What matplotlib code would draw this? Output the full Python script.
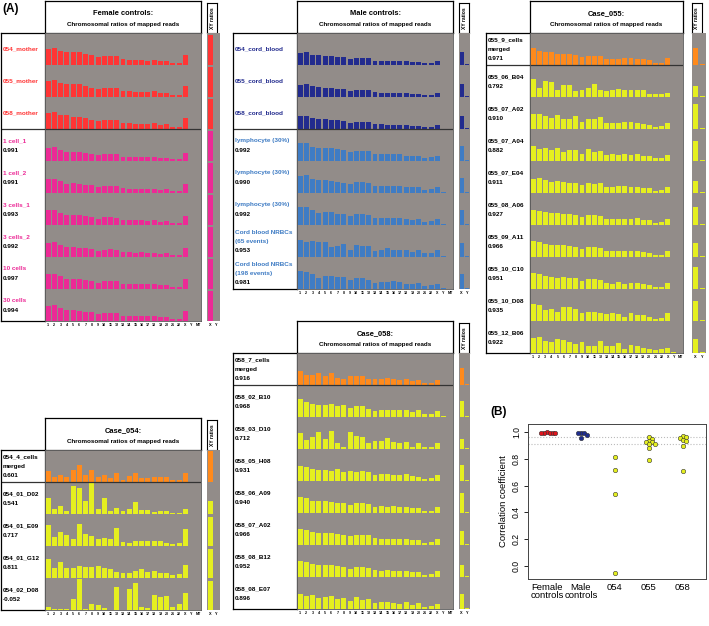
import numpy as np
import matplotlib.pyplot as plt

plt.rcParams['font.family'] = ['Liberation Sans', 'DejaVu Sans']

W, H = 709, 626
ROW = 32.0
GRAY = '#928c89'
RED = '#ff3535'
PINK = '#ec2a96'
NAVY = '#222b8e'
BLUE = '#3f7cc4'
ORANGE = '#ff8a1c'
YELLOW = '#e5ef1f'

chrom_ticks = [str(i) for i in range(1, 23)] + ['X', 'Y', 'MT']

# ratios per row: chr1..chr22, X, Y (bar heights, row = 32)
female_names = ['054_mother', '055_mother', '058_mother', '1 cell_1', '1 cell_2',
                '3 cells_1', '3 cells_2', '10 cells', '30 cells']
female_scores = [None, None, None, '0.991', '0.991', '0.993', '0.992', '0.997', '0.994']
female_ratios = [
    [15.7, 16.7, 14.3, 13.3, 12.7, 12.7, 11, 10, 7.7, 9.3, 9.3, 9.3, 6, 5.3, 5, 5, 4.3, 5.3, 3.7, 4.3, 2.3, 2.3, 10.3, 0],
    [16, 17.3, 14.3, 13.3, 12.7, 12.7, 10.7, 9.3, 8.3, 9.3, 9.3, 9.3, 6, 6, 5.3, 5.3, 5, 6, 4.3, 4.3, 2.3, 2.3, 10.7, 0],
    [16.3, 17.3, 14, 14, 12.3, 12.3, 11.3, 9, 8.3, 9, 9, 9, 6.3, 5.7, 5, 5, 5, 6.3, 4, 5, 2, 2, 11.3, 0],
    [13.3, 13.7, 11, 8.7, 8.7, 8.7, 8, 7, 5.7, 7, 7, 7, 4.3, 4, 4, 4, 4, 4, 3, 3.3, 1.7, 2, 8.3, 0],
    [14, 14.3, 11.7, 9.3, 9.7, 9.3, 8.3, 7.7, 6, 7.3, 7.3, 7, 4.7, 4.3, 4.3, 4.3, 4, 4.3, 3.3, 3.7, 2, 2.3, 9, 0],
    [14.7, 15, 12.3, 10, 10, 9.7, 8.7, 8, 6.3, 7.7, 7.7, 7.3, 5, 4.7, 4.7, 4.7, 4.3, 4.7, 3.3, 3.7, 2, 2.3, 9.3, 0],
    [14.3, 14.7, 12, 9.7, 9.7, 9.3, 8.7, 7.7, 6, 7.3, 7.7, 7.3, 4.7, 4.7, 4.3, 4.7, 4.3, 4.3, 3.3, 3.7, 2, 2, 9, 0],
    [15, 15.3, 12.7, 10.3, 10.3, 10, 9, 8.3, 6.3, 8, 8, 7.7, 5, 5, 4.7, 5, 4.7, 5, 3.7, 4, 2.3, 2.3, 9.7, 0],
    [15.3, 15.7, 13, 10.7, 10.7, 10.3, 9.3, 8.7, 6.7, 8.3, 8.3, 8, 5.3, 5, 5, 5, 4.7, 5, 3.7, 4, 2.3, 2.3, 10, 0],
]
female_xy_x = [30, 30, 30, 30, 30, 30, 30, 30, 30]
female_xy_y = [0, 0, 0, 0, 0, 0, 0, 0, 0]

male_names = ['054_cord_blood', '055_cord_blood', '058_cord_blood', 'lymphocyte (30%)',
              'lymphocyte (30%)', 'lymphocyte (30%)', 'Cord blood NRBCs\n(65 events)',
              'Cord blood NRBCs\n(198 events)']
male_scores = [None, None, None, '0.992', '0.990', '0.992', '0.953', '0.981']
male_ratios = [
    [12, 12.7, 10.3, 9.7, 9, 9, 8.3, 7.7, 6, 7, 7, 7, 4.3, 4.3, 4, 4, 4, 3.7, 3, 3, 2, 2.3, 3.7, 0.4],
    [12.3, 13, 10.7, 10, 9.3, 9, 8.3, 7.7, 6, 7.3, 7, 7, 4.7, 4.3, 4, 4, 4, 3.7, 3, 3.3, 2, 2.3, 4, 0.4],
    [12.7, 13.3, 11, 10.3, 10, 9.3, 8.7, 8, 6.3, 7.3, 7.3, 7, 4.7, 4.7, 4.3, 4.3, 4, 4, 3.3, 3.3, 2, 2.3, 4, 0.4],
    [17.7, 18, 14.3, 12.7, 12.7, 12.7, 12, 11, 9.3, 10.3, 10.3, 10.3, 7, 6.7, 6.7, 6.7, 7, 5.3, 5.3, 5.3, 3.3, 4.3, 5.3, 0.5],
    [17.3, 18.3, 14.3, 12.7, 12.7, 11.7, 11, 10, 8.7, 10.7, 10.7, 10, 7, 7, 7, 7.3, 7.3, 5.7, 5.7, 5.7, 3.3, 4, 6.3, 0.7],
    [17.7, 17.7, 15.3, 12, 13.3, 13, 11.3, 11.3, 9.3, 11, 10.7, 10, 7.3, 7.3, 7.3, 7.3, 7.3, 5.7, 5.3, 6, 3.3, 4.3, 6.3, 0.7],
    [17.3, 14.7, 16, 14.7, 14.7, 10, 11.3, 13.3, 7.3, 11.7, 11.3, 10.7, 5.7, 7.3, 9, 7.3, 7.3, 7.3, 4.7, 6.7, 3.7, 3.7, 6.7, 0.7],
    [18.3, 16.7, 15, 11.3, 13.3, 13.3, 12, 11.7, 9.3, 11.3, 11.3, 9.3, 6, 7, 7, 7.7, 7, 5, 5, 6, 3.3, 4, 5.3, 0.7],
]
male_xy_x = [13.3, 13.3, 13.3, 15, 15, 15, 14, 15]
male_xy_y = [1, 1, 1, 1, 1, 1, 1, 1]

c055_names = ['055_9_cells\nmerged', '055_06_B04', '055_07_A02', '055_07_A04', '055_07_E04',
              '055_08_A06', '055_09_A11', '055_10_C10', '055_10_D08', '055_12_B06']
c055_scores = ['0.971', '0.792', '0.910', '0.882', '0.911', '0.927', '0.966', '0.951', '0.935', '0.922']
c055_ratios = [
    [16.7, 13.7, 13.3, 12.7, 11, 11, 11, 10.3, 8.3, 9.3, 9.3, 8.7, 6, 6, 6, 6.7, 6.7, 6, 6, 5, 2.3, 2.3, 6.7, 0.4],
    [17.7, 9, 16, 15, 7.3, 11.7, 12.3, 6, 7.3, 9.3, 13.3, 6.7, 6, 7.3, 8.3, 7.3, 7.3, 7.3, 7.3, 3.3, 3.3, 3.3, 3.7, 0.4],
    [14.7, 14.7, 13, 11.3, 14, 10, 10, 13, 7, 9.7, 9.7, 12, 6.3, 6, 6, 7, 6.7, 6.3, 5.3, 4.3, 2.3, 2.7, 6, 0.4],
    [15, 12, 13.3, 11, 13, 9, 11, 11, 7, 12, 9.3, 10, 6, 7, 6, 7.3, 6, 6.7, 5, 5.3, 2.7, 3, 6.3, 0.4],
    [14, 15, 12.7, 10.7, 12, 11, 10.3, 10.3, 7.7, 10, 9.3, 9.7, 6, 5.7, 7, 6.7, 6.3, 6, 5, 4.7, 2.3, 2.7, 6.3, 0.4],
    [15.3, 14, 13, 12, 12.3, 11, 10.7, 9.7, 8, 10, 9.7, 9, 6, 6.3, 6.3, 6, 6.3, 6.7, 4.7, 5, 2.3, 2.7, 5.7, 0.4],
    [16, 15.3, 13.3, 12.3, 12, 11.7, 11, 10.3, 8, 10, 10, 9, 6.3, 6, 6.3, 6, 6, 6.3, 4.7, 4.3, 2.3, 2.3, 6, 0.4],
    [15.7, 15, 13, 11.7, 11.3, 11.7, 10.7, 10.7, 8, 9.7, 9.7, 8.7, 6, 5.3, 6.7, 5, 5.7, 6.3, 4.7, 4, 1.7, 2, 5.7, 0.4],
    [17.3, 16, 10.7, 12, 9.3, 14, 14, 11.7, 8, 9, 9, 8.3, 7, 8, 7.3, 4, 8.3, 5.7, 5.7, 4, 2, 3, 8.3, 0.5],
    [15.3, 16.3, 11.7, 11, 14.3, 12.7, 10.7, 9.3, 10.7, 7.3, 7, 11.7, 6.7, 6.7, 10.3, 4, 7.7, 6.7, 5, 3.7, 2.7, 4.3, 5.3, 0.7],
]
c055_xy_x = [16.7, 10.7, 25, 20, 12, 18, 14, 22, 20, 14]
c055_xy_y = [1, 1, 0.7, 1, 0.7, 1, 0.7, 1, 1, 1]

c058_names = ['058_7_cells\nmerged', '058_02_B10', '058_03_D10', '058_05_H08', '058_06_A09',
              '058_07_A02', '058_08_B12', '058_08_E07']
c058_scores = ['0.916', '0.968', '0.712', '0.931', '0.940', '0.966', '0.952', '0.896']
c058_ratios = [
    [13.7, 10.3, 10.3, 12, 8.7, 12, 7, 6.3, 9.3, 9.3, 8.7, 6, 6, 6, 6.7, 6, 5.3, 6, 4.3, 5.3, 2, 2, 5.3, 0],
    [18, 15, 13.3, 12, 12, 12.7, 10.7, 12, 8.7, 11.3, 11.3, 8, 6, 7.3, 6.7, 6.7, 6.7, 6.7, 4.7, 6.7, 2.7, 2.7, 6, 0.7],
    [15.7, 9, 11.7, 16.7, 10, 18, 6.3, 2.3, 16.7, 13, 11.7, 5.7, 7.7, 7.7, 10.7, 7, 6.3, 7, 2.3, 5.7, 2.3, 2.3, 5.7, 0.5],
    [15, 14, 12, 11, 11.3, 10.3, 11.7, 9, 9.7, 9, 10, 9.3, 6, 6.7, 7, 6, 6.3, 6.7, 4.7, 4.3, 2.3, 2.7, 6, 0.5],
    [16, 14.7, 12.3, 12, 11.7, 11, 10.3, 10, 8.3, 10, 9.7, 9.3, 6.3, 6.7, 6.3, 6.7, 6, 6, 4.7, 5, 2.3, 2.3, 5.7, 0.5],
    [16.3, 15.3, 13, 12, 12, 11.7, 10.7, 10.3, 8.7, 10.3, 10, 9.7, 6.7, 6.3, 6.3, 6.3, 6, 6.3, 4.7, 5, 2.3, 2.7, 6, 0.5],
    [15.7, 15, 13.3, 11.7, 12, 12, 11.3, 10, 8.3, 9.7, 10, 9.3, 6.7, 6.3, 6.7, 6, 6.3, 6, 5, 4.7, 2.3, 2.7, 6.3, 0.5],
    [15, 13, 14, 10.7, 12.3, 12.7, 10, 11.3, 8, 11.7, 8.7, 10.3, 5.7, 7, 7.3, 6, 5.3, 7, 4.3, 5.7, 2.3, 3, 5.3, 0.5],
]
c058_xy_x = [17, 15.7, 10, 16, 20, 14, 12, 15]
c058_xy_y = [1, 1, 1, 1, 1, 1, 1, 1]

c054_names = ['054_4_cells\nmerged', '054_01_D02', '054_01_E09', '054_01_G12', '054_02_D08']
c054_scores = ['0.601', '0.541', '0.717', '0.811', '-0.052']
c054_ratios = [
    [11.3, 4.7, 7.3, 4.7, 12, 17.3, 7.3, 12, 5.3, 7.3, 3.7, 9, 2.3, 5.7, 9, 3.7, 3.7, 5.3, 4.7, 4.7, 2, 2.3, 8.7, 0],
    [15.7, 5, 8.3, 3.3, 27.7, 25.7, 13.3, 30.7, 5, 15.7, 3.3, 6.3, 3.3, 5, 11.7, 4, 4, 2.3, 3.3, 3.3, 1.3, 1.3, 5, 0],
    [21.3, 9.3, 14, 10.7, 7.3, 22, 12, 10.3, 6.7, 7.7, 6.7, 17.7, 4.3, 3.3, 5, 5, 5, 5.3, 5.3, 2.7, 1.7, 3.3, 16.7, 0],
    [19, 10, 16.3, 10, 10, 12, 11, 11, 12, 10, 9, 6.3, 5, 5, 7.3, 9, 6.3, 7.3, 5, 5, 2.7, 4, 13, 0],
    [2.7, 1, 1, 1, 11, 31, 1, 6, 5, 2, 0.3, 23.3, 0.3, 20.7, 27.3, 3.3, 1.7, 15, 13.3, 14, 2.7, 6, 16.7, 0],
]
c054_xy_x = [31, 12.7, 29, 29, 29]
c054_xy_y = [0, 0, 0, 0, 0]

# panel B
groups = ['Female\ncontrols', 'Male\ncontrols', '054', '055', '058']
corr_female = [0.991, 0.991, 0.993, 0.992, 0.997, 0.994]
corr_male = [0.992, 0.990, 0.992, 0.953, 0.981]
corr_054 = [0.541, 0.717, 0.811, -0.052]
corr_055 = [0.792, 0.910, 0.882, 0.911, 0.927, 0.966, 0.951, 0.935, 0.922]
corr_058 = [0.968, 0.712, 0.931, 0.940, 0.966, 0.952, 0.896]
ref_lines = [0.96, 0.91]

fig = plt.figure(figsize=(W / 100, H / 100), dpi=100)


def px_axes(x0, y0, x1, y1):
    return fig.add_axes([x0 / W, 1 - y1 / H, (x1 - x0) / W, (y1 - y0) / H])


def draw_panel(title, lx, gx0, gx1, sx0, sx1, top, names, scores, ratios,
               xy_x, xy_y, bar_colors, name_colors, nsep):
    n = len(names)
    y_rows = top + 32
    bottom = y_rows + n * ROW

    t = px_axes(gx0, top, gx1, y_rows)
    t.set_xticks([])
    t.set_yticks([])
    for s in t.spines.values():
        s.set_linewidth(0.9)
    t.text(0.5, 0.6, title, ha='center', va='center', fontsize=5.4, fontweight='bold')
    t.text(0.5, 0.27, 'Chromosomal ratios of mapped reads', ha='center', va='center',
           fontsize=4.5, fontweight='bold')

    lab = px_axes(lx, y_rows, gx0, bottom)
    lab.set_xlim(0, 1)
    lab.set_ylim(0, n)
    lab.set_xticks([])
    lab.set_yticks([])
    for s in lab.spines.values():
        s.set_linewidth(0.9)
    tx = 2.0 / (gx0 - lx)
    for i, name in enumerate(names):
        base = n - 1 - i
        lines = name.split('\n')
        if scores[i] is None:
            ys = [0.5]
        elif len(lines) == 1:
            ys = [0.63, 0.34]
        else:
            ys = [0.77, 0.48, 0.19]
        for j, line in enumerate(lines):
            lab.text(tx, base + ys[j], line, color=name_colors[i], fontsize=4.6,
                     fontweight='bold', va='center', ha='left')
        if scores[i] is not None:
            lab.text(tx, base + ys[-1], scores[i], color='black', fontsize=4.6,
                     fontweight='bold', va='center', ha='left')
    lab.axhline(n - nsep, color='#333333', lw=0.9)

    ax = px_axes(gx0, y_rows, gx1, bottom)
    ax.set_facecolor(GRAY)
    ax.set_xlim(0.5, 25.5)
    ax.set_ylim(0, n)
    for i, r in enumerate(ratios):
        ax.bar(np.arange(1, len(r) + 1), np.array(r) / ROW, bottom=n - 1 - i,
               width=0.8, color=bar_colors[i], linewidth=0)
    ax.axhline(n - nsep, color='#333333', lw=0.9)
    ax.set_xticks(range(1, 26))
    ax.set_xticklabels(chrom_ticks, fontsize=2.6, fontweight='bold')
    ax.tick_params(axis='x', length=0, pad=1.5)
    ax.set_yticks([])
    for s in ax.spines.values():
        s.set_color('#555555')
        s.set_linewidth(0.6)

    xl = px_axes(sx0, top + 2, sx0 + 10, y_rows)
    xl.set_xticks([])
    xl.set_yticks([])
    for s in xl.spines.values():
        s.set_linewidth(0.8)
    xl.text(0.5, 0.5, 'XY ratios', rotation=90, fontsize=3.6, fontweight='bold',
            ha='center', va='center')

    xs = px_axes(sx0, y_rows, sx1, bottom)
    xs.set_facecolor(GRAY)
    xs.set_xlim(0.5, 2.5)
    xs.set_ylim(0, n)
    for i in range(n):
        xs.bar([1, 2], [xy_x[i] / ROW, xy_y[i] / ROW], bottom=n - 1 - i, width=0.75,
               color=bar_colors[i], linewidth=0)
    xs.set_xticks([1, 2])
    xs.set_xticklabels(['X', 'Y'], fontsize=2.8, fontweight='bold')
    xs.tick_params(axis='x', length=0, pad=1.5)
    xs.set_yticks([])
    for s in xs.spines.values():
        s.set_visible(False)


draw_panel('Female controls:', 1, 45, 201, 207, 220, 1, female_names, female_scores,
           female_ratios, female_xy_x, female_xy_y,
           [RED] * 3 + [PINK] * 6, [RED] * 3 + [PINK] * 6, 3)
draw_panel('Male controls:', 233, 297, 453, 459, 470, 1, male_names, male_scores,
           male_ratios, male_xy_x, male_xy_y,
           [NAVY] * 3 + [BLUE] * 5, [NAVY] * 3 + [BLUE] * 5, 3)
draw_panel('Case_055:', 486, 530, 683, 692, 706, 1, c055_names, c055_scores,
           c055_ratios, c055_xy_x, c055_xy_y,
           [ORANGE] + [YELLOW] * 9, ['black'] * 10, 1)
draw_panel('Case_058:', 233, 297, 453, 459, 470, 321, c058_names, c058_scores,
           c058_ratios, c058_xy_x, c058_xy_y,
           [ORANGE] + [YELLOW] * 7, ['black'] * 8, 1)
draw_panel('Case_054:', 1, 45, 201, 207, 220, 418, c054_names, c054_scores,
           c054_ratios, c054_xy_x, c054_xy_y,
           [ORANGE] + [YELLOW] * 4, ['black'] * 5, 1)

fig.text(2 / W, 1 - 9 / H, '(A)', fontsize=8.5, fontweight='bold', va='center', ha='left')
fig.text(490 / W, 1 - 412 / H, '(B)', fontsize=8.5, fontweight='bold', va='center', ha='left')


def swarm(vals, pos, d_px=2.8, yscale=134.0, xscale=34.0):
    placed = []
    out_x, out_y = [], []
    cands = [0.0]
    for j in range(1, 40):
        cands += [j * d_px * 0.5, -j * d_px * 0.5]
    for v in sorted(vals, reverse=True):
        y = v * yscale
        for c in cands:
            if all((c - px) ** 2 + (y - py) ** 2 >= d_px ** 2 for px, py in placed):
                break
        placed.append((c, y))
        out_x.append(pos + c / xscale)
        out_y.append(v)
    return out_x, out_y


bx = px_axes(528, 424, 706, 579)
bx.set_xlim(0.44, 5.68)
bx.set_ylim(-0.097, 1.06)
for yl in ref_lines:
    bx.axhline(yl, color='#bbbbbb', ls=':', lw=0.8, zorder=1)
group_vals = [corr_female, corr_male, corr_054, corr_055, corr_058]
group_cols = ['#e0141c', '#1f2d8f', YELLOW, YELLOW, YELLOW]
for k, vals in enumerate(group_vals):
    gx, gy = swarm(vals, k + 1)
    bx.scatter(gx, gy, s=10, color=group_cols[k], edgecolors='#333333', linewidths=0.4, zorder=3)
bx.set_xticks(range(1, 6))
bx.set_xticklabels(groups, fontsize=6.8, linespacing=0.85)
bx.tick_params(axis='x', length=0, pad=3)
bx.set_yticks([0.0, 0.2, 0.4, 0.6, 0.8, 1.0])
bx.set_yticklabels(['0.0', '0.2', '0.4', '0.6', '0.8', '1.0'], rotation=90, va='center', fontsize=6.2)
bx.tick_params(axis='y', length=3, width=0.6, pad=2)
bx.set_ylabel('Correlation coefficient', fontsize=6.8, labelpad=3)
for s in bx.spines.values():
    s.set_linewidth(0.7)
    s.set_color('#444444')

fig.savefig('out.png', dpi=100)
